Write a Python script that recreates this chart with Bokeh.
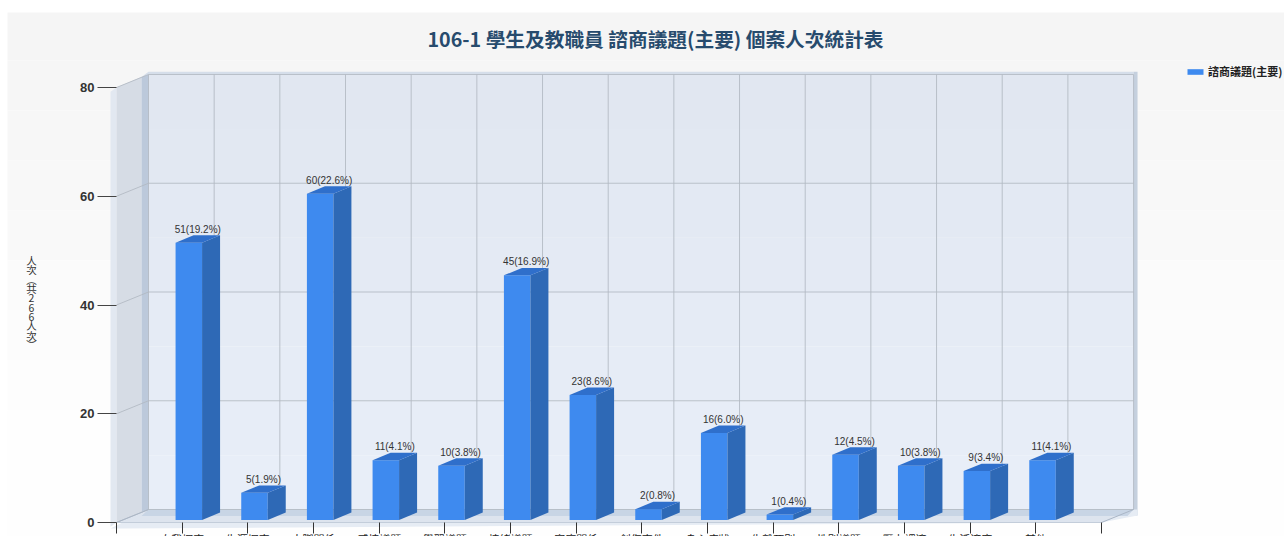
from bokeh.plotting import figure
from bokeh.embed import file_html
from bokeh.resources import INLINE
from bokeh.core.properties import value
from bokeh.models import (ColumnDataSource, LinearAxis, FixedTicker, Legend, LegendItem, Range1d)

# ---- data ----
categories = ["自我探索", "生涯探索", "人際關係", "感情議題", "學習議題", "情緒議題", "家庭關係",
              "創傷事件", "身心症狀", "生離死別", "性別議題", "壓力調適", "生活適應", "其他"]
counts = [51, 5, 60, 11, 10, 45, 23, 2, 16, 1, 12, 10, 9, 11]
percents = [19.2, 1.9, 22.6, 4.1, 3.8, 16.9, 8.6, 0.8, 6.0, 0.4, 4.5, 3.8, 3.4, 4.1]
y_ticks = [0, 20, 40, 60, 80]
title_text = "106-1 學生及教職員 諮商議題(主要) 個案人次統計表"
y_title = "人次︵共266人次︶"
legend_text = "諮商議題(主要)"

# ---- geometry: one x unit is one category slot, one y unit is one 人次 ----
W, H = 1284, 536
PX_X, PX_Y = 65.67, 5.4375
ORIGIN_X, ORIGIN_Y = 116, 522      # picture position of (0, 0)
def X(px): return (px - ORIGIN_X) / PX_X
def Y(px): return (ORIGIN_Y - px) / PX_Y
DX, DY = 32 / PX_X, 13 / PX_Y      # depth of the box
BW, BDX, BDY = 26.5 / PX_X, 18 / PX_X, 7.4 / PX_Y
BASE = 2.5 / PX_Y
BOFF = -6.6 / PX_X
NCAT = 15
YMAX = 80

p = figure(width=W, height=H, output_backend="svg", toolbar_location=None,
           x_range=Range1d(X(0), X(W)), y_range=Range1d(Y(H), Y(0)),
           min_border=0, outline_line_color=None, background_fill_color="white",
           border_fill_color="white", x_axis_type=None, y_axis_type=None)
p.grid.visible = False

# chart background, fading from light grey to white
band_tops = [12, 60, 110, 160, 210, 260, 310, 360, 410]
band_cols = ["#f5f5f5", "#f6f6f6", "#f7f7f7", "#f8f8f8", "#f9f9f9", "#fbfbfb", "#fcfcfc", "#fdfdfd", "#fefefe"]
for i, t in enumerate(band_tops):
    b = band_tops[i + 1] if i + 1 < len(band_tops) else 536
    p.quad(left=X(7), right=X(1284), top=Y(t), bottom=Y(b), fill_color=band_cols[i], line_color=None)

# back wall, in vertical tone steps
wall_steps = 8
for k in range(wall_steps):
    v0 = YMAX * k / wall_steps
    v1 = YMAX * (k + 1) / wall_steps
    c = ["#e8eef8", "#e7edf7", "#e6ecf6", "#e5ebf5", "#e4eaf4", "#e3e9f3", "#e2e8f2", "#e1e7f1"][k]
    p.quad(left=DX, right=DX + NCAT, bottom=v0 + DY, top=v1 + DY, fill_color=c, line_color=None)

# left wall + its edges
p.patch([X(110), 0, 0, X(110)], [0 - .8, 0, YMAX, YMAX - .8], fill_color="#e2e8f1", line_color=None)
p.patch([0, X(141), X(141), 0], [0, 0 + DY * 0.8, YMAX + DY * 0.8, YMAX], fill_color="#d6dce5", line_color=None)
p.patch([X(141), DX, DX, X(141)], [DY * 0.8, DY, YMAX + DY, YMAX + DY * 0.8], fill_color="#bcc9db", line_color=None)
p.patch([0, X(141), DX, DX + NCAT, DX + NCAT, DX], [YMAX, YMAX + DY * .8, YMAX + DY + .5, YMAX + DY + .5, YMAX + DY, YMAX + DY],
        fill_color="#d5deea", line_color=None)
# right edge of the back wall
p.quad(left=DX + NCAT, right=DX + NCAT + 4 / PX_X, bottom=DY - 1.1, top=YMAX + DY + .5, fill_color="#c5d0de", line_color=None)

# floor
p.patch([X(110), 0, NCAT, DX + NCAT + 4 / PX_X, DX + NCAT + 4 / PX_X, DX], [-1.1, -1.1, 0, DY - 1.1, DY, DY],
        fill_color="#e6ecf4", line_color=None)
p.patch([0, NCAT, DX + NCAT, DX], [0, 0, DY, DY], fill_color="#dde4ee", line_color=None)
p.patch([X(141), X(1127), DX + NCAT, DX], [DY - 1.2, DY - 1.2, DY, DY], fill_color="#c8d5e5", line_color=None)

# grid lines on walls
grid_col = "#b2b8c2"
wall_x = [DX + k for k in range(NCAT + 1)]
p.segment(x0=wall_x, x1=wall_x, y0=[DY] * len(wall_x), y1=[YMAX + DY] * len(wall_x),
          line_color=grid_col, line_width=1, line_alpha=.85)
p.segment(x0=[DX] * len(y_ticks), x1=[DX + NCAT] * len(y_ticks), y0=[v + DY for v in y_ticks],
          y1=[v + DY for v in y_ticks], line_color=grid_col, line_width=1, line_alpha=.85)
p.segment(x0=[0] * len(y_ticks), x1=[DX] * len(y_ticks), y0=y_ticks, y1=[v + DY for v in y_ticks],
          line_color=grid_col, line_width=1, line_alpha=.85)
p.segment(x0=[0, NCAT], x1=[DX, DX + NCAT], y0=[0, 0], y1=[DY, DY], line_color="#aab6c6", line_width=1)
p.segment(x0=[0], x1=[NCAT], y0=[0], y1=[0], line_color="#c3cdda", line_width=1)

# bars
lefts = [i + 1 + BOFF for i in range(len(counts))]
rights = [l + BW for l in lefts]
tops = [c + BASE for c in counts]
bottoms = [BASE] * len(counts)
front = p.quad(left=lefts, right=rights, top=tops, bottom=bottoms, fill_color="#3e8aef", line_color=None)
p.patches(xs=[[r, r + BDX, r + BDX, r] for r in rights],
          ys=[[BASE, BASE + BDY, t + BDY, t] for t in tops], fill_color="#2e69b6", line_color=None)
p.patches(xs=[[l, r, r + BDX, l + BDX] for l, r in zip(lefts, rights)],
          ys=[[t, t, t + BDY, t + BDY] for t in tops], fill_color="#2f6fcb", line_color=None)

# bar value labels
src = ColumnDataSource(dict(x=[l + (BW + BDX) / 2 for l in lefts],
                            y=[t + BDY + 0.5 / PX_Y for t in tops],
                            t=[f"{c}({q:.1f}%)" for c, q in zip(counts, percents)]))
p.text(x="x", y="y", text="t", source=src, text_font=value("Liberation Sans"), text_font_size="10px",
       text_color="#333333", text_align="center", text_baseline="bottom")

# title
p.text(x=[X(655)], y=[Y(38)], text=[title_text], text_font=value("Noto Sans CJK TC"), text_font_size="19.7px",
       text_font_style="bold", text_color="#274b6d", text_align="center", text_baseline="middle")

# stacked y-axis title
p.text(x=[X(31)], y=[Y(302)], text=["\n".join(y_title)], text_font=value("Noto Sans CJK TC"), text_font_size="10.5px",
       text_color="#333333", text_align="center", text_baseline="middle", text_line_height=0.62)

# axes
ya = LinearAxis(fixed_location=0, ticker=FixedTicker(ticks=y_ticks), axis_line_color=None,
                major_tick_in=0, major_tick_out=19, major_tick_line_color="#444444", major_tick_line_width=1,
                minor_tick_line_color=None, major_label_standoff=3,
                major_label_text_font="Liberation Sans", major_label_text_font_style="bold",
                major_label_text_font_size="13px", major_label_text_color="#333333")
p.add_layout(ya, "left")
xticks = list(range(NCAT + 1))
xa = LinearAxis(fixed_location=0, ticker=FixedTicker(ticks=xticks), axis_line_color=None,
                major_tick_in=0, major_tick_out=11, major_tick_line_color="#333333", major_tick_line_width=1,
                minor_tick_line_color=None, major_label_standoff=-3,
                major_label_overrides={i: (categories[i - 1] if 1 <= i <= len(categories) else "") for i in xticks},
                major_label_text_font="Noto Sans CJK TC", major_label_text_font_size="11px",
                major_label_text_color="#222222")
p.add_layout(xa, "below")

# legend
leg = Legend(items=[LegendItem(label=legend_text, renderers=[front])], location=(1185, H - 79),
             background_fill_alpha=0, border_line_color=None, glyph_width=20, glyph_height=7,
             label_text_font="Noto Sans CJK TC", label_text_font_size="11px", label_text_font_style="bold",
             label_text_color="#222222", label_standoff=3, margin=0, padding=5, label_height=12)
p.add_layout(leg, "center")

open("out.html", "w").write(file_html(p, INLINE))
